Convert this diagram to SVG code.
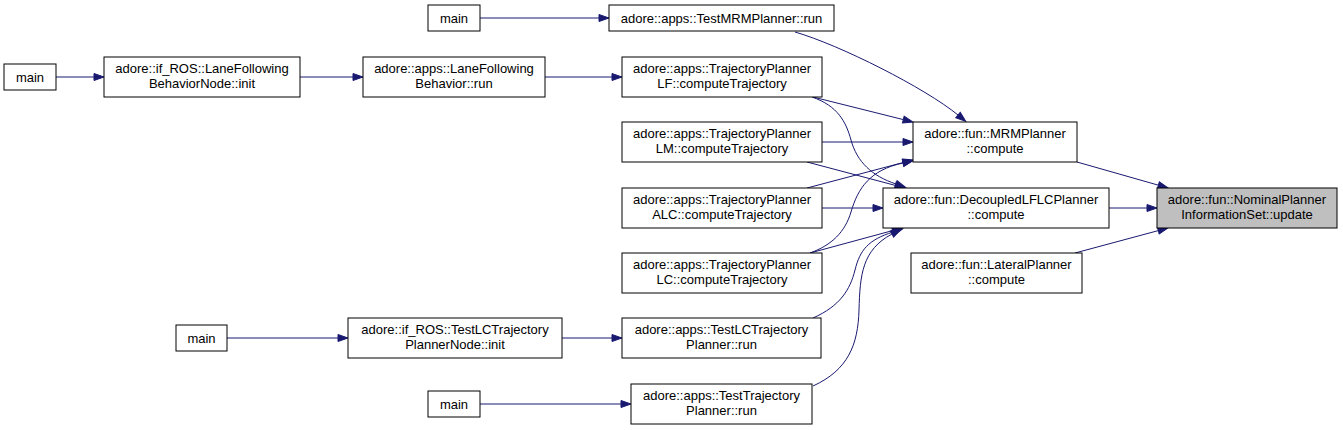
<svg xmlns="http://www.w3.org/2000/svg" width="1343" height="430" viewBox="0 0 1343 430">
<style>
.n rect{fill:#ffffff;stroke:#000000;stroke-width:1}
.root rect{fill:#bfbfbf}
text{font-family:"Liberation Sans",Arial,sans-serif;font-size:13px;text-anchor:middle;fill:#000000}
.e path{fill:none;stroke:#191970;stroke-width:1;marker-end:url(#ah)}
</style>
<defs>
<marker id="ah" markerUnits="userSpaceOnUse" markerWidth="10" markerHeight="7" refX="0" refY="3.5" orient="auto" overflow="visible">
<path d="M0,0 L10,3.5 L0,7 Z" fill="#191970" stroke="#191970" stroke-width="1"/>
</marker>
</defs>
<rect x="0" y="0" width="1343" height="430" fill="#ffffff"/>
<g class="e" id="connectors">
<path d="M480,18 L599,18"/>
<path d="M56,77 L94,77"/>
<path d="M300,77 L353,77"/>
<path d="M545,77 L612,77"/>
<path d="M795,32 C840,45 925,88 958,115"/>
<path d="M813,97 L903.3,119.6"/>
<path d="M812,97 C838,106 846,122 851,140 C857,162 872,176 896,184"/>
<path d="M822,142 L903,142"/>
<path d="M807,162 L895.3,185.4"/>
<path d="M807,188 L903.3,162.5"/>
<path d="M810,253 C832,245 845,232 851,212 C858,188 870,170 903,163"/>
<path d="M822,208 L873,208"/>
<path d="M810,253 L893.3,230.4"/>
<path d="M813,318 C840,306 850,290 855,270 C860,250 868,240 893,232"/>
<path d="M813,386 C848,370 858,345 859,310 C860,275 862,250 892,234"/>
<path d="M227,338 L338,338"/>
<path d="M562,338 L612,338"/>
<path d="M480,404 L621,404"/>
<path d="M1077,162 L1158.4,185.2"/>
<path d="M1109,208 L1147,208"/>
<path d="M1075,253 L1158.3,230.6"/>
</g>
<g class="n" id="main1"><rect x="428" y="5" width="52" height="26"/><text x="454" y="23">main</text></g>
<g class="n" id="testmrm"><rect x="609" y="5" width="225" height="26"/><text x="721.5" y="23">adore::apps::TestMRMPlanner::run</text></g>
<g class="n" id="main2"><rect x="4" y="64" width="52" height="26"/><text x="30" y="82">main</text></g>
<g class="n" id="lfbnode"><rect x="104" y="57" width="196" height="40"/><text x="202" y="73">adore::if_ROS::LaneFollowing</text><text x="202" y="88">BehaviorNode::init</text></g>
<g class="n" id="lfbrun"><rect x="363" y="57" width="182" height="40"/><text x="454" y="73">adore::apps::LaneFollowing</text><text x="454" y="88">Behavior::run</text></g>
<g class="n" id="tplf"><rect x="622" y="57" width="200" height="40"/><text x="722" y="73">adore::apps::TrajectoryPlanner</text><text x="722" y="88">LF::computeTrajectory</text></g>
<g class="n" id="tplm"><rect x="622" y="122" width="200" height="40"/><text x="722" y="138">adore::apps::TrajectoryPlanner</text><text x="722" y="153">LM::computeTrajectory</text></g>
<g class="n" id="mrm"><rect x="913" y="122" width="164" height="40"/><text x="995" y="138">adore::fun::MRMPlanner</text><text x="995" y="153">::compute</text></g>
<g class="n" id="tpalc"><rect x="622" y="188" width="200" height="40"/><text x="722" y="204">adore::apps::TrajectoryPlanner</text><text x="722" y="219">ALC::computeTrajectory</text></g>
<g class="n" id="decoupled"><rect x="883" y="188" width="226" height="40"/><text x="996" y="204">adore::fun::DecoupledLFLCPlanner</text><text x="996" y="219">::compute</text></g>
<g class="n root" id="nominal"><rect x="1157" y="188" width="180" height="40"/><text x="1247" y="204">adore::fun::NominalPlanner</text><text x="1247" y="219">InformationSet::update</text></g>
<g class="n" id="tplc"><rect x="622" y="253" width="200" height="40"/><text x="722" y="269">adore::apps::TrajectoryPlanner</text><text x="722" y="284">LC::computeTrajectory</text></g>
<g class="n" id="lateral"><rect x="911" y="253" width="171" height="40"/><text x="996.5" y="269">adore::fun::LateralPlanner</text><text x="996.5" y="284">::compute</text></g>
<g class="n" id="main3"><rect x="176" y="325" width="51" height="26"/><text x="201.5" y="343">main</text></g>
<g class="n" id="testlcnode"><rect x="348" y="318" width="214" height="40"/><text x="455" y="334">adore::if_ROS::TestLCTrajectory</text><text x="455" y="349">PlannerNode::init</text></g>
<g class="n" id="testlcrun"><rect x="622" y="318" width="199" height="40"/><text x="721.5" y="334">adore::apps::TestLCTrajectory</text><text x="721.5" y="349">Planner::run</text></g>
<g class="n" id="main4"><rect x="428" y="391" width="52" height="26"/><text x="454" y="409">main</text></g>
<g class="n" id="testtraj"><rect x="631" y="384" width="181" height="40"/><text x="721.5" y="400">adore::apps::TestTrajectory</text><text x="721.5" y="415">Planner::run</text></g>
</svg>
